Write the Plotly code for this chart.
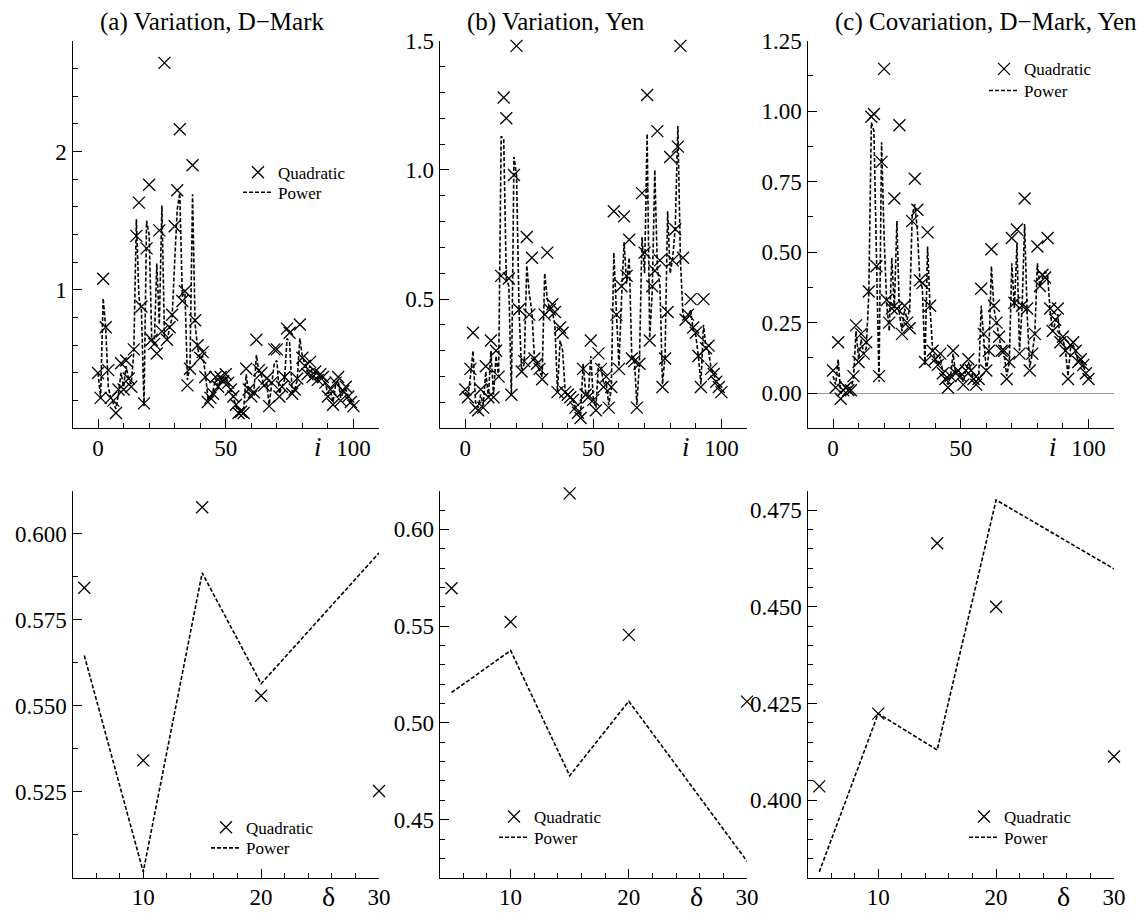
import plotly.graph_objects as go

# ---------------- data ----------------
I_IDX = list(range(0, 101))

QUAD_A = [0.40, 0.22, 1.08, 0.73, 0.42, 0.22, 0.20, 0.11, 0.28, 0.47,
          0.28, 0.49, 0.36, 0.30, 0.57, 1.39, 1.63, 0.88, 0.18, 1.30,
          1.76, 0.64, 0.61, 0.54, 1.43, 0.70, 2.64, 0.64, 0.73, 0.82,
          1.46, 1.72, 2.16, 0.92, 0.99, 0.31, 0.43, 1.90, 0.78, 0.60,
          0.51, 0.55, 0.37, 0.19, 0.22, 0.25, 0.37, 0.30, 0.37, 0.34,
          0.39, 0.33, 0.28, 0.23, 0.17, 0.11, 0.12, 0.11, 0.43, 0.28,
          0.23, 0.26, 0.64, 0.42, 0.40, 0.31, 0.36, 0.16, 0.33, 0.57,
          0.57, 0.23, 0.30, 0.37, 0.72, 0.69, 0.25, 0.28, 0.36, 0.75,
          0.51, 0.45, 0.39, 0.48, 0.37, 0.41, 0.35, 0.39, 0.37, 0.33,
          0.23, 0.28, 0.17, 0.33, 0.37, 0.20, 0.27, 0.30, 0.23, 0.19,
          0.16]
POWER_A = [0.40, 0.22, 0.94, 0.73, 0.30, 0.22, 0.18, 0.14, 0.25, 0.40,
           0.30, 0.45, 0.35, 0.32, 0.55, 1.51, 0.95, 0.85, 0.16, 1.50,
           1.40, 0.66, 0.60, 1.19, 0.75, 1.61, 0.66, 0.64, 0.72, 0.80,
           1.20, 1.58, 1.70, 0.95, 1.00, 0.35, 0.45, 1.69, 0.75, 0.58,
           0.50, 0.52, 0.40, 0.22, 0.22, 0.27, 0.36, 0.30, 0.35, 0.33,
           0.38, 0.32, 0.27, 0.22, 0.16, 0.12, 0.12, 0.13, 0.39, 0.25,
           0.24, 0.26, 0.53, 0.40, 0.38, 0.30, 0.33, 0.17, 0.32, 0.47,
           0.49, 0.25, 0.30, 0.35, 0.65, 0.62, 0.26, 0.28, 0.35, 0.65,
           0.52, 0.46, 0.41, 0.45, 0.39, 0.40, 0.36, 0.38, 0.36, 0.32,
           0.25, 0.27, 0.19, 0.31, 0.35, 0.22, 0.26, 0.28, 0.23, 0.20,
           0.17]

QUAD_B = [0.15, 0.12, 0.23, 0.37, 0.08, 0.07, 0.15, 0.08, 0.24, 0.12,
          0.34, 0.12, 0.30, 0.20, 0.59, 1.28, 1.20, 0.58, 0.13, 0.98,
          1.48, 0.46, 0.22, 0.26, 0.74, 0.44, 0.66, 0.27, 0.25, 0.23,
          0.19, 0.44, 0.68, 0.46, 0.48, 0.45, 0.14, 0.39, 0.37, 0.14,
          0.13, 0.12, 0.11, 0.08, 0.06, 0.04, 0.23, 0.13, 0.12, 0.34,
          0.11, 0.07, 0.29, 0.23, 0.16, 0.20, 0.08, 0.16, 0.84, 0.44,
          0.23, 0.55, 0.82, 0.59, 0.73, 0.27, 0.26, 0.08, 0.25, 0.91,
          0.68, 1.29, 0.34, 0.55, 0.61, 1.15, 0.65, 0.16, 0.27, 0.45,
          1.05, 0.65, 0.77, 1.09, 1.48, 0.66, 0.42, 0.44, 0.50, 0.39,
          0.37, 0.28, 0.16, 0.50, 0.31, 0.32, 0.23, 0.21, 0.18, 0.16,
          0.14]
POWER_B = [0.14, 0.12, 0.20, 0.30, 0.10, 0.08, 0.13, 0.09, 0.22, 0.12,
           0.30, 0.13, 0.28, 0.20, 1.13, 1.12, 0.58, 0.55, 0.13, 1.05,
           0.98, 0.45, 0.22, 0.25, 0.63, 0.52, 0.45, 0.27, 0.25, 0.22,
           0.20, 0.60, 0.50, 0.46, 0.45, 0.40, 0.14, 0.34, 0.30, 0.14,
           0.13, 0.12, 0.11, 0.08, 0.07, 0.05, 0.25, 0.14, 0.12, 0.28,
           0.11, 0.08, 0.25, 0.24, 0.17, 0.18, 0.09, 0.15, 0.68, 0.45,
           0.24, 0.50, 0.72, 0.56, 0.66, 0.28, 0.27, 0.09, 0.26, 0.74,
           0.60, 1.14, 0.35, 0.53, 1.00, 0.62, 0.55, 0.17, 0.28, 0.84,
           0.60, 0.66, 0.78, 1.17, 0.65, 0.44, 0.42, 0.43, 0.46, 0.38,
           0.36, 0.28, 0.17, 0.40, 0.31, 0.30, 0.23, 0.21, 0.18, 0.16,
           0.14]

QUAD_C = [0.08, 0.02, 0.18, -0.02, 0.01, 0.02, 0.01, 0.01, 0.06, 0.24,
          0.11, 0.21, 0.14, 0.18, 0.36, 0.98, 0.99, 0.45, 0.06, 0.82,
          1.15, 0.33, 0.25, 0.30, 0.69, 0.30, 0.95, 0.21, 0.31, 0.25,
          0.23, 0.61, 0.76, 0.65, 0.40, 0.39, 0.11, 0.57, 0.31, 0.15,
          0.12, 0.10, 0.14, 0.07, 0.05, 0.02, 0.06, 0.15, 0.07, 0.08,
          0.06, 0.03, 0.08, 0.12, 0.08, 0.05, 0.03, 0.05, 0.37, 0.21,
          0.08, 0.15, 0.51, 0.31, 0.25, 0.20, 0.15, 0.15, 0.05, 0.11,
          0.55, 0.32, 0.58, 0.14, 0.31, 0.69, 0.30, 0.08, 0.14, 0.21,
          0.52, 0.38, 0.42, 0.41, 0.55, 0.30, 0.22, 0.26, 0.30, 0.18,
          0.20, 0.15, 0.05, 0.17, 0.18, 0.15, 0.11, 0.12, 0.10, 0.07,
          0.05]
POWER_C = [0.06, 0.03, 0.12, 0.00, 0.01, 0.02, 0.02, 0.02, 0.05, 0.22,
           0.12, 0.19, 0.14, 0.16, 0.35, 0.96, 0.93, 0.42, 0.04, 0.89,
           0.55, 0.32, 0.22, 0.48, 0.30, 0.61, 0.28, 0.22, 0.30, 0.26,
           0.30, 0.63, 0.67, 0.58, 0.40, 0.37, 0.10, 0.52, 0.30, 0.15,
           0.12, 0.10, 0.13, 0.07, 0.05, 0.03, 0.06, 0.14, 0.07, 0.08,
           0.06, 0.04, 0.08, 0.11, 0.08, 0.05, 0.04, 0.05, 0.31, 0.20,
           0.08, 0.14, 0.45, 0.30, 0.25, 0.19, 0.15, 0.14, 0.06, 0.11,
           0.46, 0.30, 0.53, 0.15, 0.30, 0.60, 0.28, 0.09, 0.14, 0.21,
           0.46, 0.38, 0.41, 0.43, 0.42, 0.29, 0.22, 0.25, 0.28, 0.18,
           0.19, 0.15, 0.06, 0.16, 0.17, 0.15, 0.11, 0.12, 0.10, 0.07,
           0.05]

DELTA = [5, 10, 15, 20, 30]
QUAD_D = [0.5843, 0.5341, 0.6077, 0.5529, 0.5252]
POWER_D = [0.5646, 0.5017, 0.5886, 0.5564, 0.5944]
QUAD_E = [0.5696, 0.5522, 0.6186, 0.5455, 0.5110]
POWER_E = [0.5157, 0.5374, 0.4727, 0.5112, 0.4285]
QUAD_F = [0.4036, 0.4224, 0.4664, 0.4500, 0.4113]
POWER_F = [0.3815, 0.4224, 0.4130, 0.4776, 0.4598]

TITLES = ["(a) Variation, D\u2212Mark", "(b) Variation, Yen", "(c) Covariation, D\u2212Mark, Yen"]

# ---------------- layout helpers ----------------
W, H = 1146, 913
FONT = "Liberation Serif"

def px_x(p):
    return p / W

def px_y(p):
    return 1 - p / H

COLS = [(72.5, 379.0), (439.7, 747.0), (807.5, 1114.0)]
TOP_ROW = (40.7, 428.3)
BOT_ROW = (490.7, 877.7)


def frange(a, b, step):
    out = []
    v = a
    while v <= b + 1e-9:
        out.append(round(v, 6))
        v += step
    return out


def make_axis(domain, rng, tickvals, ticktext, minorvals, anchor, zeroline=False, is_x=False):
    return dict(
        domain=domain, range=rng, anchor=anchor, automargin=False,
        showline=True, linecolor="black", linewidth=1.3,
        showgrid=False, zeroline=zeroline, zerolinecolor="#9a9a9a", zerolinewidth=1,
        ticks="inside", ticklen=9, tickwidth=1.2, tickcolor="black",
        tickmode="array", tickvals=tickvals, ticktext=ticktext,
        minor=dict(ticks="inside", ticklen=5, tickwidth=1.2, tickcolor="black",
                   tickvals=minorvals, showgrid=False),
        tickfont=dict(family=FONT, size=23, color="black"),
        ticklabelstandoff=(-1 if is_x else 0),
        fixedrange=True,
    )


fig = go.Figure()

top_series = [(QUAD_A, POWER_A), (QUAD_B, POWER_B), (QUAD_C, POWER_C)]
bot_series = [(QUAD_D, POWER_D), (QUAD_E, POWER_E), (QUAD_F, POWER_F)]

# one legend box per entry: panel -> (quadratic legend, power legend)
legend_for = {
    1: ("legend", "legend2"),
    3: ("legend3", "legend4"),
    4: ("legend5", "legend6"),
    5: ("legend7", "legend8"),
    6: ("legend9", "legend10"),
}

marker_style = dict(symbol="x-thin", size=12, color="black", line=dict(width=1.3, color="black"))
line_style = dict(color="black", width=1.6, dash="4px,2px")

for k, (q, p) in enumerate(top_series):
    n = k + 1
    xa = "x" if n == 1 else f"x{n}"
    ya = "y" if n == 1 else f"y{n}"
    lg = legend_for.get(n)
    fig.add_trace(go.Scatter(x=I_IDX, y=p, mode="lines", line=line_style, name="Power",
                             xaxis=xa, yaxis=ya, showlegend=lg is not None,
                             legend=lg[1] if lg else "legend", cliponaxis=False))
    fig.add_trace(go.Scatter(x=I_IDX, y=q, mode="markers", marker=marker_style, name="Quadratic",
                             xaxis=xa, yaxis=ya, showlegend=lg is not None,
                             legend=lg[0] if lg else "legend", cliponaxis=False))

for k, (q, p) in enumerate(bot_series):
    n = k + 4
    lg = legend_for[n]
    fig.add_trace(go.Scatter(x=DELTA, y=p, mode="lines", line=line_style, name="Power",
                             xaxis=f"x{n}", yaxis=f"y{n}", showlegend=True, legend=lg[1],
                             cliponaxis=False))
    fig.add_trace(go.Scatter(x=DELTA, y=q, mode="markers", marker=marker_style, name="Quadratic",
                             xaxis=f"x{n}", yaxis=f"y{n}", showlegend=True, legend=lg[0],
                             cliponaxis=False))

layout = {}
top_y_cfg = [
    ([0, 2.8], [1, 2], ["1", "2"], frange(0, 2.8, 0.2)),
    ([0, 1.5], [0.5, 1.0, 1.5], ["0.5", "1.0", "1.5"], frange(0, 1.5, 0.1)),
    ([-0.125, 1.25], [0, 0.25, 0.5, 0.75, 1.0, 1.25],
     ["0.00", "0.25", "0.50", "0.75", "1.00", "1.25"], frange(-0.125, 1.25, 0.125)),
]
bot_y_cfg = [
    ([0.5, 0.6125], [0.525, 0.55, 0.575, 0.6], ["0.525", "0.550", "0.575", "0.600"],
     frange(0.5, 0.6125, 0.0125)),
    ([0.42, 0.62], [0.45, 0.5, 0.55, 0.6], ["0.45", "0.50", "0.55", "0.60"],
     frange(0.42, 0.62, 0.01)),
    ([0.38, 0.48], [0.4, 0.425, 0.45, 0.475], ["0.400", "0.425", "0.450", "0.475"],
     frange(0.38, 0.48, 0.005)),
]

for k in range(3):
    n = k + 1
    xkey = "xaxis" if n == 1 else f"xaxis{n}"
    ykey = "yaxis" if n == 1 else f"yaxis{n}"
    xa = "x" if n == 1 else f"x{n}"
    ya = "y" if n == 1 else f"y{n}"
    cx = COLS[k]
    layout[xkey] = make_axis([px_x(cx[0]), px_x(cx[1])], [-10, 110], [0, 50, 100], ["0", "50", "100"],
                             frange(-10, 110, 10), ya, is_x=True)
    rng, tv, tt, mv = top_y_cfg[k]
    layout[ykey] = make_axis([px_y(TOP_ROW[1]), px_y(TOP_ROW[0])], rng, tv, tt, mv, xa,
                             zeroline=(n == 3))

for k in range(3):
    n = k + 4
    cx = COLS[k]
    layout[f"xaxis{n}"] = make_axis([px_x(cx[0]), px_x(cx[1])], [4, 30], [10, 20, 30], ["10", "20", "30"],
                                    frange(4, 30, 2), f"y{n}", is_x=True)
    rng, tv, tt, mv = bot_y_cfg[k]
    layout[f"yaxis{n}"] = make_axis([px_y(BOT_ROW[1]), px_y(BOT_ROW[0])], rng, tv, tt, mv, f"x{n}")

# legend text starts (x) and row centres (y) measured on the reference
LEG_TEXT_X = {1: 279, 3: 1025, 4: 247, 5: 535, 6: 1005}
LEG_ROWS_Y = {1: (171.7, 191.7), 3: (68.3, 90.0), 4: (826.7, 847.3), 5: (816.0, 836.7), 6: (816.0, 836.7)}
for n, (lq, lp) in legend_for.items():
    for key, cy in ((lq, LEG_ROWS_Y[n][0]), (lp, LEG_ROWS_Y[n][1])):
        layout[key] = dict(x=px_x(LEG_TEXT_X[n] - 41), y=px_y(cy - 17), xanchor="left", yanchor="top",
                           bgcolor="rgba(0,0,0,0)", borderwidth=0,
                           font=dict(family=FONT, size=17, color="black"),
                           tracegroupgap=0, itemwidth=30)

annotations = []
for k in range(3):
    xa = "x" if k == 0 else f"x{k + 1}"
    annotations.append(dict(text=TITLES[k], x=0, xref=xa, y=px_y(22), yref="paper",
                            xanchor="left", yanchor="middle", showarrow=False,
                            font=dict(family=FONT, size=25, color="black")))
    annotations.append(dict(text="<i>i</i>", x=86, xref=xa, y=px_y(447), yref="paper",
                            xanchor="center", yanchor="middle", showarrow=False,
                            font=dict(family=FONT, size=27, color="black")))
    annotations.append(dict(text="\u03b4", x=25.7, xref=f"x{k + 4}", y=px_y(896), yref="paper",
                            xanchor="center", yanchor="middle", showarrow=False,
                            font=dict(family=FONT, size=28, color="black")))

fig.update_layout(
    width=W, height=H,
    margin=dict(l=0, r=0, t=0, b=0, autoexpand=False),
    paper_bgcolor="white", plot_bgcolor="white",
    annotations=annotations,
    **layout,
)

fig.write_html(
    "out.html",
    config={"displayModeBar": False},
    post_script="document.body.style.margin='0';document.body.style.overflow='hidden';",
)
